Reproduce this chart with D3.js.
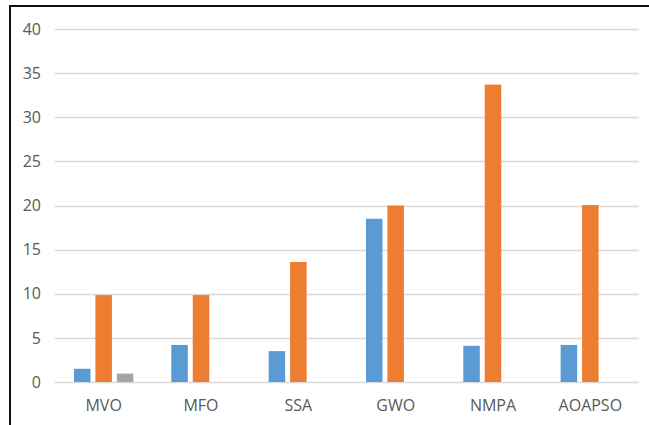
<!DOCTYPE html>
<html>
<head>
<meta charset="utf-8">
<script src="https://cdn.jsdelivr.net/npm/d3@7"></script>
<style>
  html, body { margin: 0; padding: 0; background: #fff; }
  svg { display: block; }
  text { font-family: "Open Sans", "Liberation Sans", Arial, sans-serif; fill: #595959; }
</style>
</head>
<body>
<svg id="chart" width="649" height="425"></svg>
<script>
// Algorithms compared along the x axis
const categories = ["MVO", "MFO", "SSA", "GWO", "NMPA", "AOAPSO"];
// Three measured series per algorithm (null = not reported)
const seriesA = [1.5, 4.2, 3.5, 18.5, 4.1, 4.2];
const seriesB = [9.85, 9.85, 13.6, 20.0, 33.7, 20.05];
const seriesC = [0.95, null, null, null, null, null];
const seriesNames = ["A", "B", "C"];
const seriesColors = ["#5B9BD5", "#ED7D31", "#A5A5A5"];
const yTicks = [0, 5, 10, 15, 20, 25, 30, 35, 40];

const seriesValues = [seriesA, seriesB, seriesC];
const rows = categories.map((c, i) => ({
  cat: c,
  vals: seriesNames.map((s, j) => ({ s, v: seriesValues[j][i], color: seriesColors[j] }))
}));

const svg = d3.select("#chart");
const plot = { left: 55, right: 639, top: 29, bottom: 382 };
const fontStack = '"Open Sans", "Liberation Sans", Arial, sans-serif';

const y = d3.scaleLinear().domain([0, 40]).range([plot.bottom, plot.top]);
const x0 = d3.scaleBand().domain(categories).range([plot.left, plot.right])
  .paddingInner(0.39).paddingOuter(0.195);
const x1 = d3.scaleBand().domain(seriesNames).range([0, x0.bandwidth()])
  .paddingInner(0.23).paddingOuter(0);

// Frame (left and top edges)
svg.append("path")
  .attr("d", "M10,425 L10,6 L649,6")
  .attr("fill", "none").attr("stroke", "#111").attr("stroke-width", 2);

// Horizontal gridlines
svg.append("g").selectAll("line").data(yTicks).join("line")
  .attr("x1", plot.left).attr("x2", plot.right)
  .attr("y1", d => Math.round(y(d)) + 0.5).attr("y2", d => Math.round(y(d)) + 0.5)
  .attr("stroke", "#D9D9D9").attr("stroke-width", 1.5);

// Y axis labels
const yAxis = d3.axisLeft(y).tickValues(yTicks).tickSize(0).tickPadding(14);
const gy = svg.append("g").attr("transform", `translate(${plot.left},0)`).call(yAxis);
gy.select(".domain").remove();
gy.selectAll("text").attr("font-size", 16).attr("fill", "#636363")
  .style("font-family", fontStack);

// Bars
const groups = svg.append("g").selectAll("g").data(rows).join("g")
  .attr("transform", d => `translate(${x0(d.cat)},0)`);
groups.selectAll("rect").data(d => d.vals.filter(v => v.v != null)).join("rect")
  .attr("x", d => x1(d.s))
  .attr("width", x1.bandwidth())
  .attr("y", d => y(d.v))
  .attr("height", d => y(0) - y(d.v))
  .attr("fill", d => d.color);

// X axis labels
const xAxis = d3.axisBottom(x0).tickSize(0).tickPadding(18);
const gx = svg.append("g").attr("transform", `translate(0,${plot.bottom})`).call(xAxis);
gx.select(".domain").remove();
gx.selectAll("text").attr("font-size", 16).attr("fill", "#636363")
  .style("font-family", fontStack);
</script>
</body>
</html>
